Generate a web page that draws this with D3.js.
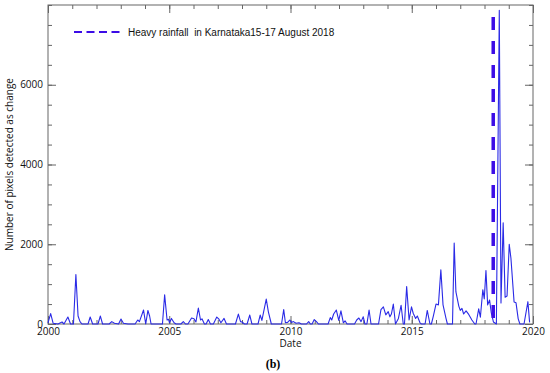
<!DOCTYPE html>
<html>
<head>
<meta charset="utf-8">
<script src="https://cdn.jsdelivr.net/npm/d3@7"></script>
<style>
  body { margin: 0; background: #fff; }
  svg text { font-family: "Open Sans", sans-serif; }
</style>
</head>
<body>
<div class="chart"></div>
<script>
// decimal year of each vertex of the series
const dates = [
  2000.00, 2000.11, 2000.21, 2000.41, 2000.58, 2000.66, 2000.82, 2000.93, 2001.05, 2001.15,
  2001.24, 2001.32, 2001.40, 2001.65, 2001.74, 2001.84, 2002.06, 2002.16, 2002.25, 2002.52,
  2002.63, 2002.74, 2002.91, 2003.01, 2003.11, 2003.30, 2003.59, 2003.70, 2003.77, 2003.94,
  2004.03, 2004.12, 2004.19, 2004.25, 2004.72, 2004.81, 2004.91, 2004.97, 2005.01, 2005.09,
  2005.20, 2005.28, 2005.48, 2005.58, 2005.67, 2005.77, 2005.92, 2006.02, 2006.10, 2006.20,
  2006.29, 2006.35, 2006.45, 2006.52, 2006.61, 2006.70, 2006.82, 2006.96, 2007.05, 2007.13,
  2007.26, 2007.36, 2007.73, 2007.85, 2007.94, 2008.00, 2008.10, 2008.21, 2008.32, 2008.41,
  2008.66, 2008.75, 2008.82, 2008.89, 2009.00, 2009.09, 2009.21, 2009.63, 2009.72, 2009.79,
  2009.88, 2009.97, 2010.04, 2010.12, 2010.23, 2010.35, 2010.45, 2010.66, 2010.75, 2010.82,
  2010.89, 2010.98, 2011.07, 2011.15, 2011.55, 2011.64, 2011.70, 2011.78, 2011.89, 2011.99,
  2012.08, 2012.18, 2012.25, 2012.33, 2012.64, 2012.73, 2012.82, 2012.91, 2013.00, 2013.07,
  2013.15, 2013.24, 2013.32, 2013.63, 2013.73, 2013.83, 2013.93, 2014.03, 2014.10, 2014.16,
  2014.24, 2014.33, 2014.45, 2014.56, 2014.65, 2014.70, 2014.79, 2014.89, 2014.99, 2015.06,
  2015.16, 2015.23, 2015.34, 2015.40, 2015.55, 2015.64, 2015.75, 2015.81, 2015.89, 2016.00,
  2016.10, 2016.20, 2016.29, 2016.41, 2016.47, 2016.68, 2016.75, 2016.82, 2016.94, 2017.00,
  2017.07, 2017.14, 2017.24, 2017.35, 2017.48, 2017.60, 2017.65, 2017.76, 2017.83, 2017.93,
  2017.99, 2018.06, 2018.13, 2018.21, 2018.28, 2018.37, 2018.49, 2018.61, 2018.68, 2018.77,
  2018.85, 2018.93, 2019.02, 2019.09, 2019.22, 2019.30, 2019.39, 2019.46, 2019.63, 2019.79,
  2019.86
];

// number of pixels detected as change at each vertex
const pixels = [
  30, 260, 20, 0, 50, 0, 175, 0, 0, 1240,
  200, 60, 0, 0, 175, 0, 0, 200, 0, 0,
  60, 20, 0, 125, 20, 0, 0, 100, 60, 350,
  0, 340, 200, 0, 0, 730, 100, 120, 30, 140,
  30, 0, 0, 60, 0, 0, 150, 130, 50, 400,
  100, 130, 0, 0, 110, 0, 0, 175, 120, 30,
  140, 0, 0, 250, 60, 50, 0, 0, 225, 0,
  0, 225, 90, 300, 625, 300, 0, 0, 360, 30,
  40, 100, 40, 60, 20, 30, 0, 0, 60, 0,
  0, 110, 60, 0, 0, 160, 100, 250, 350, 90,
  330, 30, 80, 0, 0, 100, 150, 60, 180, 0,
  0, 350, 0, 0, 360, 430, 230, 310, 180, 250,
  500, 0, 140, 470, 0, 0, 940, 100, 430, 270,
  140, 200, 30, 0, 0, 340, 0, 0, 200, 500,
  480, 1360, 480, 150, 0, 0, 2030, 810, 450, 340,
  390, 250, 330, 240, 100, 0, 0, 380, 170, 860,
  630, 1340, 480, 600, 280, 50, 0, 7870, 525, 2540,
  670, 700, 2000, 1650, 550, 530, 130, 0, 0, 560,
  40
];

// event marker (dashed line) and its legend label
const eventDate = 2018.36;
const eventLabel = "Heavy rainfall  in Karnataka15-17 August 2018";

const xDomain = [2000, 2020];
const yDomain = [0, 8000];
const xMajor = [2000, 2005, 2010, 2015, 2020];
const yMajor = [0, 2000, 4000, 6000];
const xLabel = "Date";
const yLabel = "Number of pixels detected as change";
const caption = "(b)";

const W = 550, H = 373;
const margin = {top: 5, right: 17, bottom: 49, left: 48};
const width = W - margin.left - margin.right;
const height = H - margin.top - margin.bottom;

const svg = d3.select('.chart').append('svg')
    .attr('width', W)
    .attr('height', H);

const g = svg.append('g')
    .attr('transform', 'translate(' + margin.left + ',' + margin.top + ')');

const x = d3.scaleLinear().domain(xDomain).range([0, width]);
const y = d3.scaleLinear().domain(yDomain).range([height, 0]);

const frameColor = '#666';
const xMinor = d3.range(xDomain[0], xDomain[1] + 1, 1);
const yMinor = d3.range(yDomain[0], yDomain[1] + 1, 500);

function styleAxis(sel) {
    sel.select('.domain').remove();
    sel.selectAll('.tick line').attr('stroke', frameColor);
    sel.selectAll('.tick text').attr('fill', '#111').style('font-size', '10px');
}

// minor ticks on all four sides
g.append('g').attr('transform', 'translate(0,' + height + ')')
    .call(d3.axisBottom(x).tickValues(xMinor).tickSize(-4).tickFormat('')).call(styleAxis);
g.append('g')
    .call(d3.axisTop(x).tickValues(xMinor).tickSize(-4).tickFormat('')).call(styleAxis);
g.append('g')
    .call(d3.axisLeft(y).tickValues(yMinor).tickSize(-4).tickFormat('')).call(styleAxis);
g.append('g').attr('transform', 'translate(' + width + ',0)')
    .call(d3.axisRight(y).tickValues(yMinor).tickSize(-4).tickFormat('')).call(styleAxis);

// major ticks with labels
g.append('g').attr('transform', 'translate(0,' + height + ')')
    .call(d3.axisBottom(x).tickValues(xMajor).tickSize(-8).tickPadding(4).tickFormat(d3.format('d')))
    .call(styleAxis);
g.append('g')
    .call(d3.axisTop(x).tickValues(xMajor).tickSize(-8).tickFormat('')).call(styleAxis);
g.append('g')
    .call(d3.axisLeft(y).tickValues(yMajor).tickSize(-8).tickPadding(5).tickFormat(d3.format('d')))
    .call(styleAxis);
g.append('g').attr('transform', 'translate(' + width + ',0)')
    .call(d3.axisRight(y).tickValues(yMajor).tickSize(-8).tickFormat('')).call(styleAxis);

// frame
g.append('rect')
    .attr('width', width)
    .attr('height', height)
    .attr('fill', 'none')
    .attr('stroke', frameColor)
    .attr('stroke-width', 1);

// series
const data = dates.map((d, i) => ({date: d, value: pixels[i]}));
const line = d3.line()
    .x(d => x(d.date))
    .y(d => y(d.value));

g.append('path')
    .datum(data)
    .attr('d', line)
    .attr('fill', 'none')
    .attr('stroke', '#2a2ae6')
    .attr('stroke-width', 1.1)
    .attr('stroke-linejoin', 'round');

// event marker
const eventColor = '#3c0ce6';
g.append('line')
    .attr('x1', x(eventDate)).attr('x2', x(eventDate))
    .attr('y1', y(7700)).attr('y2', y(0))
    .attr('stroke', eventColor)
    .attr('stroke-width', 3.5)
    .attr('stroke-dasharray', '13,11');

// legend
const legend = g.append('g').attr('transform', 'translate(26,27)');
legend.append('line')
    .attr('x1', 0).attr('x2', 48)
    .attr('stroke', eventColor)
    .attr('stroke-width', 2.2)
    .attr('stroke-dasharray', '8,4.5');
legend.append('text')
    .attr('x', 54)
    .attr('dy', '0.35em')
    .style('font-family', '"Liberation Sans", Arial, sans-serif')
    .style('font-size', '10px')
    .style('white-space', 'pre')
    .attr('fill', '#111')
    .text(eventLabel);

// axis titles
svg.append('text')
    .attr('x', margin.left + width / 2)
    .attr('y', 347)
    .attr('text-anchor', 'middle')
    .style('font-size', '10px')
    .attr('fill', '#111')
    .text(xLabel);

svg.append('text')
    .attr('transform', 'translate(13,' + (margin.top + height / 2) + ') rotate(-90)')
    .attr('text-anchor', 'middle')
    .style('font-size', '10px')
    .attr('fill', '#111')
    .text(yLabel);

svg.append('text')
    .attr('x', 273)
    .attr('y', 368)
    .attr('text-anchor', 'middle')
    .style('font-family', '"Liberation Serif", "Times New Roman", serif')
    .style('font-size', '12px')
    .style('font-weight', 'bold')
    .attr('fill', '#000')
    .text(caption);
</script>
</body>
</html>
